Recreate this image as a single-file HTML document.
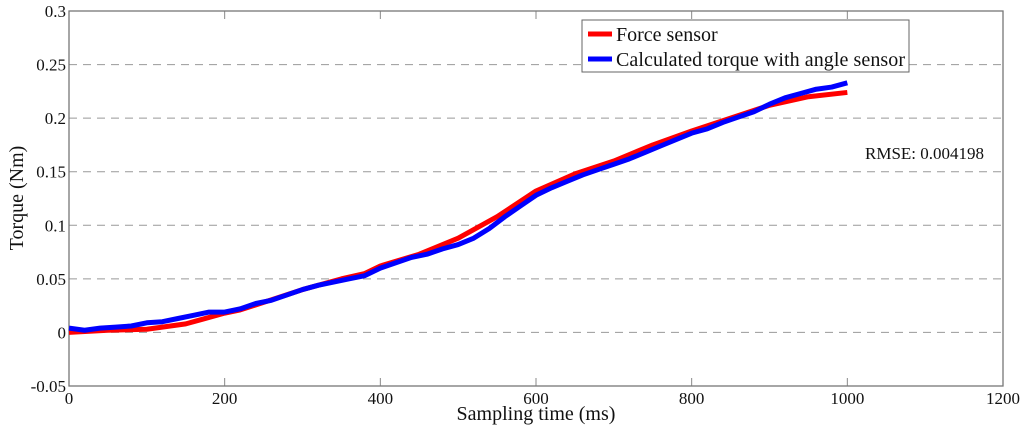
<!DOCTYPE html>
<html><head><meta charset="utf-8"><style>
body{margin:0;background:#fff}
svg text{font-family:"Liberation Serif",serif;fill:#111}
</style></head><body>
<svg id="c" width="1024" height="434" xmlns="http://www.w3.org/2000/svg"></svg>
<script>
const xTicks=[0,200,400,600,800,1000,1200];
const yTicks=[-0.05,0,0.05,0.1,0.15,0.2,0.25,0.3];
const yTickLabels=["-0.05","0","0.05","0.1","0.15","0.2","0.25","0.3"];
const redT=[0,50,100,150,170,200,220,250,300,350,380,400,450,500,550,600,650,700,750,800,850,900,950,1000];
const redV=[0,0.002,0.003,0.008,0.012,0.018,0.021,0.028,0.040,0.050,0.055,0.062,0.073,0.088,0.108,0.132,0.148,0.160,0.175,0.188,0.200,0.212,0.220,0.224];
const blueT=[0,20,40,60,80,100,120,140,160,180,200,220,240,260,280,300,320,340,360,380,400,420,440,460,480,500,520,540,560,580,600,620,640,660,680,700,720,740,760,780,800,820,840,860,880,900,920,940,960,980,1000];
const blueV=[0.004,0.002,0.004,0.005,0.006,0.009,0.010,0.013,0.016,0.019,0.019,0.022,0.027,0.030,0.035,0.040,0.044,0.047,0.050,0.053,0.060,0.065,0.070,0.073,0.078,0.082,0.088,0.097,0.108,0.118,0.128,0.135,0.141,0.147,0.152,0.157,0.162,0.168,0.174,0.180,0.186,0.190,0.196,0.201,0.206,0.213,0.219,0.223,0.227,0.229,0.233];
const L=69,R=1003,T=11,B=386;
const sx=v=>L+(v-0)/1200*(R-L);
const sy=v=>B-(v+0.05)/0.35*(B-T);
const svg=document.getElementById('c');
const NS='http://www.w3.org/2000/svg';
function mk(tag,attrs,txt){const e=document.createElementNS(NS,tag);for(const k in attrs)e.setAttribute(k,attrs[k]);if(txt!==undefined)e.textContent=txt;svg.appendChild(e);return e;}
yTicks.forEach((v,i)=>{
  if(i>0&&i<yTicks.length-1){
    const g=mk('line',{x1:L,x2:R,y1:sy(v),y2:sy(v),stroke:'#999','stroke-dasharray':'8,6','stroke-width':1});
    
    
  }
  const t=mk('text',{x:L-3,y:sy(v)+6,'text-anchor':'end','font-size':17},yTickLabels[i]);
  
  
});
xTicks.forEach(v=>{
  mk('line',{x1:sx(v),x2:sx(v),y1:B,y2:B-8,stroke:'#888'});
  mk('line',{x1:sx(v),x2:sx(v),y1:T,y2:T+8,stroke:'#888'});
  const t=mk('text',{x:sx(v),y:404,'text-anchor':'middle','font-size':17},String(v));
  
  
});
const fr=mk('rect',{x:L,y:T,width:R-L,height:B-T,fill:'none',stroke:'#777','stroke-width':1.3});


function line(ts,vs,col,name){
  const p=mk('polyline',{points:ts.map((t,i)=>sx(t)+','+sy(vs[i])).join(' '),fill:'none',stroke:col,'stroke-width':5,'stroke-linejoin':'round'});
  
  
}
line(redT,redV,'#f00','force-sensor-line');
line(blueT,blueV,'#00f','calculated-torque-line');
const lg=mk('rect',{x:582,y:20,width:327,height:52,fill:'#fff',stroke:'#666'});


mk('line',{x1:588,x2:612,y1:34,y2:34,stroke:'#f00','stroke-width':5});
mk('line',{x1:588,x2:612,y1:59,y2:59,stroke:'#00f','stroke-width':5});
const l1=mk('text',{x:616,y:41,'font-size':20},'Force sensor');


const l2=mk('text',{x:616,y:66,'font-size':20,textLength:289},'Calculated torque with angle sensor');


const rm=mk('text',{x:865,y:159,'font-size':17},'RMSE: 0.004198');


const xt=mk('text',{x:536,y:420,'text-anchor':'middle','font-size':20},'Sampling time (ms)');


const yt=mk('text',{x:0,y:0,'text-anchor':'middle','font-size':20,transform:'translate(23,198) rotate(-90)'},'Torque (Nm)');


</script>
</body></html>
